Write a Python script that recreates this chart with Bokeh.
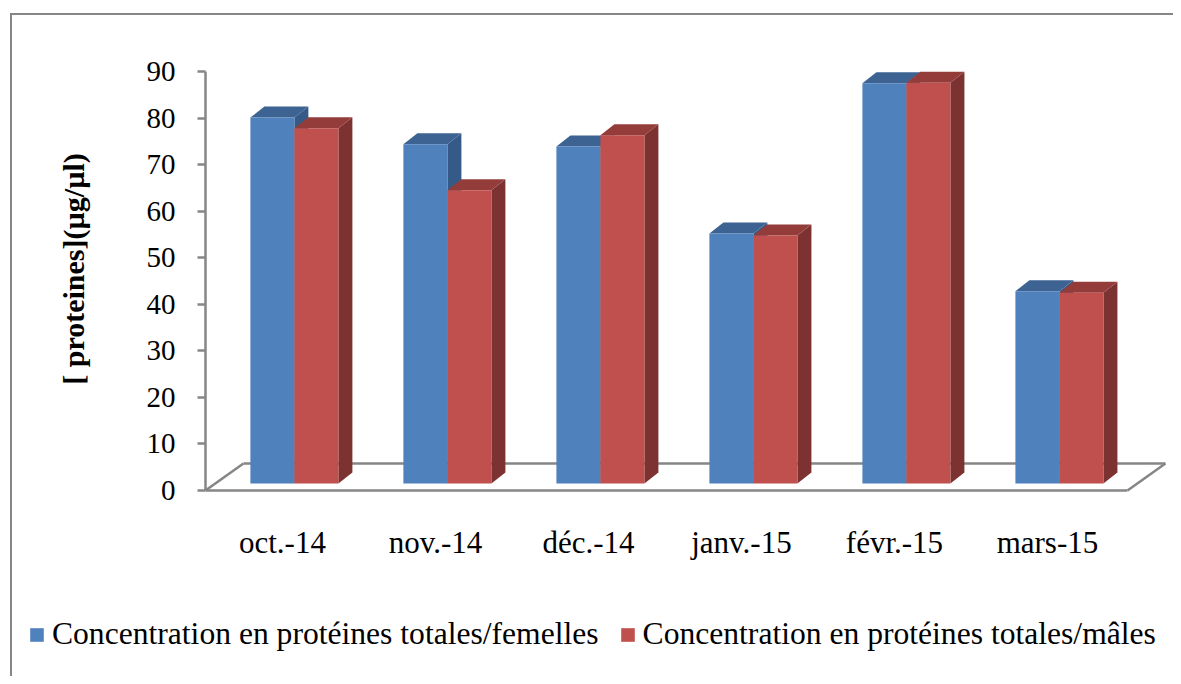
from bokeh.plotting import figure
from bokeh.layouts import column
from bokeh.models import FixedTicker, Legend, LegendItem, Range1d
from bokeh.embed import file_html
from bokeh.resources import INLINE

# ---------------- data ----------------
months = ["oct.-14", "nov.-14", "déc.-14", "janv.-15", "févr.-15", "mars-15"]
femelles = [78.6, 72.9, 72.4, 53.7, 86.0, 41.3]
males = [76.3, 63.0, 74.8, 53.3, 86.1, 41.0]
y_ticks = [0, 10, 20, 30, 40, 50, 60, 70, 80, 90]
series_names = ["Concentration en protéines totales/femelles",
                "Concentration en protéines totales/mâles"]
y_title = "[ proteines](µg/µl)"

# ---------------- styles (3D look) ----------------
FONT = "Liberation Serif"
GRAY = "#868686"
BLUE, BLUE_TOP, BLUE_SIDE = "#4F81BD", "#3c6392", "#365a87"
RED, RED_TOP, RED_SIDE = "#C0504D", "#943c3a", "#7b3230"
BASE = 1.5        # bar floor level (mid depth)
BW = 0.2876       # bar width (x units)
SHIFT = 0.078     # perspective shift of bars vs labels
DDX, DDY = 0.0915, 2.363   # bar depth
FDX, FDY = 0.248, 5.8      # floor depth

p = figure(width=1161, height=585, output_backend="svg", toolbar_location=None,
           x_range=Range1d(-0.503, 5.791), y_range=Range1d(-1.504, 96.66),
           min_border_left=193, min_border_right=5, min_border_top=25,
           min_border_bottom=103)
p.outline_line_color = None
p.xgrid.visible = False
p.ygrid.visible = False
p.background_fill_color = "white"
p.border_fill_color = "white"
p.frame_align = False

# floor
n = len(months)
x_left = -0.503
x_right = n - 1 + 0.523
p.line([x_left, x_right], [0, 0], line_color=GRAY, line_width=2.5)
p.line([x_left, x_left + FDX], [0, FDY], line_color=GRAY, line_width=2.5)
p.line([x_right, x_right + FDX], [0, FDY], line_color=GRAY, line_width=2.5)
p.line([x_left + FDX, x_right + FDX], [FDY, FDY], line_color=GRAY, line_width=2.5)


def faces(vals, offset):
    tops_x, tops_y, sides_x, sides_y = [], [], [], []
    lefts, rights, tops, bottoms = [], [], [], []
    for i, v in enumerate(vals):
        x0 = i + SHIFT + offset
        x1 = x0 + BW
        t = BASE + v
        lefts.append(x0); rights.append(x1); tops.append(t); bottoms.append(BASE)
        tops_x.append([x0, x1, x1 + DDX, x0 + DDX])
        tops_y.append([t, t, t + DDY, t + DDY])
        sides_x.append([x1, x1 + DDX, x1 + DDX, x1])
        sides_y.append([BASE, BASE + DDY, t + DDY, t])
    return (lefts, rights, tops, bottoms), (tops_x, tops_y), (sides_x, sides_y)


for vals, off, c_front, c_top, c_side in [(femelles, -BW, BLUE, BLUE_TOP, BLUE_SIDE),
                                          (males, 0.0, RED, RED_TOP, RED_SIDE)]:
    (l, r, t, b), (tx, ty), (sx, sy) = faces(vals, off)
    p.patches(sx, sy, fill_color=c_side, line_color=None)
    p.patches(tx, ty, fill_color=c_top, line_color=None)
    p.quad(left=l, right=r, top=t, bottom=b, fill_color=c_front, line_color=None)

# axes
xa = p.xaxis[0]
xa.ticker = FixedTicker(ticks=list(range(n)))
xa.major_label_overrides = {i: m for i, m in enumerate(months)}
xa.axis_line_color = None
xa.major_tick_line_color = None
xa.minor_tick_line_color = None
xa.major_label_text_font = FONT
xa.major_label_text_font_size = "31px"
xa.major_label_text_color = "black"
xa.major_label_standoff = 21

ya = p.yaxis[0]
ya.ticker = FixedTicker(ticks=y_ticks)
ya.bounds = (0, 90)
ya.axis_line_color = GRAY
ya.axis_line_width = 2.5
ya.major_tick_line_color = GRAY
ya.major_tick_line_width = 2.5
ya.major_tick_out = 8
ya.major_tick_in = 0
ya.minor_tick_line_color = None
ya.major_label_text_font = FONT
ya.major_label_text_font_size = "29px"
ya.major_label_text_color = "black"
ya.major_label_standoff = 22
ya.axis_label = y_title
ya.axis_label_text_font = FONT
ya.axis_label_text_font_style = "bold"
ya.axis_label_text_font_size = "30px"
ya.axis_label_text_color = "black"
ya.axis_label_standoff = 54

# legend strip (second figure, same width)
p2 = figure(width=1161, height=76, output_backend="svg", toolbar_location=None,
            x_axis_type=None, y_axis_type=None,
            x_range=Range1d(0, 1), y_range=Range1d(0, 1),
            min_border=0)
p2.frame_align = False
p2.outline_line_color = None
p2.xgrid.visible = False
p2.ygrid.visible = False
# legend proxies (kept outside the visible range)
lf = p2.quad(left=[2], right=[3], top=[3], bottom=[2], fill_color=BLUE, line_color=None)
lm = p2.quad(left=[2], right=[3], top=[3], bottom=[2], fill_color=RED, line_color=None)
legend = Legend(items=[LegendItem(label=series_names[0], renderers=[lf]),
                       LegendItem(label=series_names[1], renderers=[lm])],
                orientation="horizontal", location=(16, 24),
                glyph_width=17, glyph_height=17, label_standoff=7, spacing=20,
                padding=0, margin=0, border_line_color=None,
                background_fill_alpha=0,
                label_text_font=FONT, label_text_font_size="31.6px",
                label_text_color="black")
p2.add_layout(legend)

layout = column(p, p2, spacing=0)
layout.styles = {"margin-left": "10px", "margin-top": "13px",
                 "border-left": "2px solid #868686", "border-top": "2px solid #868686"}

open("out.html", "w").write(file_html(layout, INLINE))
